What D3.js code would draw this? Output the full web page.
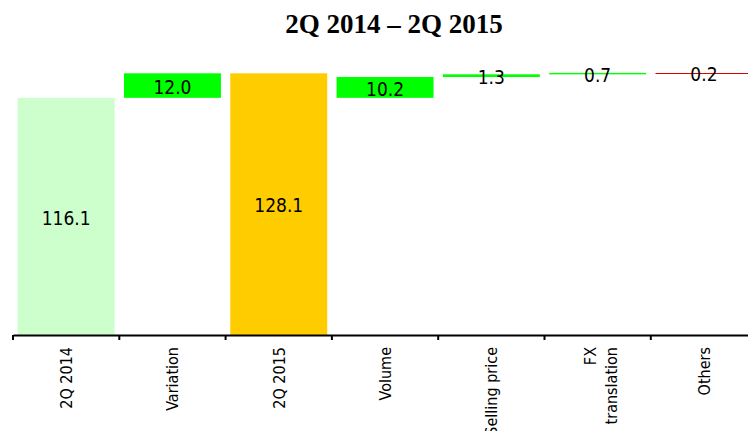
<!DOCTYPE html>
<html>
<head>
<meta charset="utf-8">
<script src="https://cdn.jsdelivr.net/npm/d3@7"></script>
<style>
  body { margin: 0; background: #fff; overflow: hidden; }
  .chart-title { font-family: "Liberation Serif", "Times New Roman", serif; font-weight: bold; font-size: 27px; }
  .bar-label { font-family: "DejaVu Sans Condensed", "DejaVu Sans", sans-serif; font-size: 19px; fill: #000; }
  .tick-label { font-family: "DejaVu Sans Condensed", "DejaVu Sans", sans-serif; font-size: 16px; fill: #000; }
</style>
</head>
<body>
<div id="viz_container"></div>
<script>
// data
const categories = ["2Q 2014", "Variation", "2Q 2015", "Volume", "Selling price", "FX translation", "Others"];
const values = [116.1, 12.0, 128.1, 10.2, 1.3, 0.7, -0.2];
const kinds = ["total", "delta", "total", "step", "step", "step", "step"];
const tickLabels = [["2Q 2014"], ["Variation"], ["2Q 2015"], ["Volume"], ["Selling price"], ["FX", "translation"], ["Others"]];

// colours
const colors = {first: "#CCFFCC", last: "#FFCC00", up: "#00FF00", down: "#E00000"};

// set the dimensions and margins of the graph
const W = 748, H = 431;
const margin = {top: 49, left: 13};
const plotHeight = 286;

const svg = d3.select("#viz_container")
  .append("svg")
    .attr("width", W)
    .attr("height", H);

// work out start / end of each bar of the bridge
let lastTotal = 0, running = values[0];
const bars = categories.map((c, i) => {
  const v = values[i];
  let y0, y1;
  if (kinds[i] === "total") {
    y0 = 0; y1 = v;
    if (i === 0) running = v;
  } else if (kinds[i] === "delta") {
    y0 = lastTotal; y1 = lastTotal + v;
  } else {
    y0 = running; y1 = running + v; running = y1;
  }
  if (kinds[i] === "total") lastTotal = v;
  let fill;
  if (kinds[i] === "total") fill = i === 0 ? colors.first : colors.last;
  else fill = v >= 0 ? colors.up : colors.down;
  return {cat: c, value: v, y0, y1, fill};
});

// scales
const xScale = d3.scaleBand()
  .domain(categories)
  .range([margin.left, margin.left + 7 * 106.3])
  .paddingInner(0.088)
  .paddingOuter(0.044);

const yScale = d3.scaleLinear()
  .domain([0, 140])
  .range([margin.top + plotHeight, margin.top]);

const baseY = yScale(0);

// bars (tiny ones get at least one pixel so they show as a line)
svg.selectAll("rect.bar")
  .data(bars)
  .join("rect")
    .attr("class", "bar")
    .attr("x", d => xScale(d.cat))
    .attr("width", xScale.bandwidth())
    .attr("y", d => {
      const h = Math.abs(yScale(d.y0) - yScale(d.y1));
      const top = yScale(Math.max(d.y0, d.y1));
      return h < 1 ? Math.round(top) : top;
    })
    .attr("height", d => Math.max(1, Math.abs(yScale(d.y0) - yScale(d.y1))))
    .style("fill", d => d.fill);

// value labels
svg.selectAll("text.bar-label")
  .data(bars)
  .join("text")
    .attr("class", "bar-label")
    .attr("x", d => xScale(d.cat) + xScale.bandwidth() / 2)
    .attr("y", d => (yScale(d.y0) + yScale(d.y1)) / 2 + 1.5)
    .attr("dy", "0.36em")
    .attr("text-anchor", "middle")
  .text(d => Math.abs(d.value).toFixed(1));

// X axis
svg.append("g")
  .attr("transform", `translate(0, ${baseY})`)
  .call(d3.axisBottom(xScale).tickSize(0).tickFormat(""))
  .call(g => g.select(".domain").attr("stroke", "#000").attr("stroke-width", 2))
  .call(g => g.selectAll(".tick").remove());

// boundary ticks
const half = (xScale.step() - xScale.bandwidth()) / 2;
svg.append("g")
  .selectAll("line")
  .data(categories)
  .join("line")
    .attr("x1", d => xScale(d) - half)
    .attr("x2", d => xScale(d) - half)
    .attr("y1", baseY)
    .attr("y2", baseY + 5)
    .attr("stroke", "#000")
    .attr("stroke-width", 2);

// rotated category labels
const lbl = svg.append("g")
  .selectAll("text")
  .data(categories)
  .join("text")
    .attr("class", "tick-label")
    .attr("text-anchor", "end")
    .attr("transform", d => `translate(${xScale(d) + xScale.bandwidth() / 2}, ${baseY + 12}) rotate(-90)`);

lbl.each(function(d, i) {
  const lines = tickLabels[i];
  const t = d3.select(this);
  lines.forEach((s, j) => {
    t.append("tspan")
      .attr("x", 0)
      .attr("dy", j === 0 ? (lines.length > 1 ? "-0.12em" : "0.36em") : "1.3em")
      .text(s);
  });
});

// title
svg.append("text")
  .attr("class", "chart-title")
  .attr("x", 394)
  .attr("y", 33)
  .attr("text-anchor", "middle")
  .text("2Q 2014 – 2Q 2015");
</script>
</body>
</html>
